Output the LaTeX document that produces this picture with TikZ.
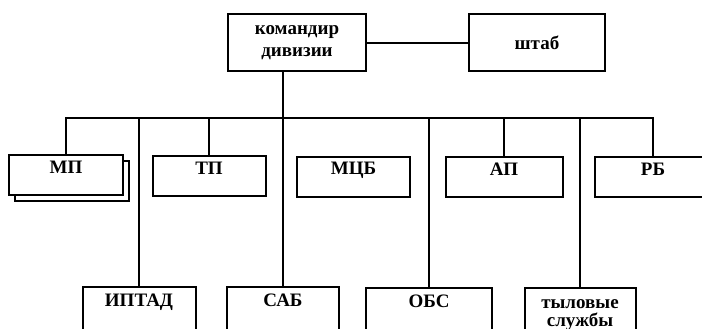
\documentclass[tikz,border=0pt]{standalone}
\usepackage{fontspec}
\setmainfont{Liberation Serif}
\usetikzlibrary{shadows}

\tikzset{
  box/.style={draw, line width=2pt, fill=white, inner sep=0pt, align=center,
    font=\fontsize{19}{22}\selectfont\bfseries, minimum width=113pt},
  unit/.style={box, text height=18pt, text depth=22pt},
  lowunit/.style={box, text height=19pt, text depth=40pt},
  link/.style={line width=2pt},
}

\begin{document}
\begin{tikzpicture}[x=1pt, y=-1pt]
  \useasboundingbox[fill=white] (0,0) rectangle (702,329);

  % command level
  \node[box, minimum width=138pt, minimum height=57pt] (cmd) at (297,43) {командир\\дивизии};
  \node[box, minimum width=136pt, minimum height=57pt] (shtab) at (537,43) {штаб};

  % regiments and battalions
  \node[unit, minimum width=114pt, copy shadow={shadow xshift=6pt, shadow yshift=-6pt}] (mp) at (66,175) {МП};
  \node[unit] (tp) at (209,176) {ТП};
  \node[unit] (mcb) at (353.5,176.5) {МЦБ};
  \node[unit, minimum width=117pt] (ap) at (504,177) {АП};
  \node[unit, minimum width=116pt] (rb) at (653,177) {РБ};

  % lower row, cut by the page edge
  \node[lowunit] (iptad) at (139,316.5) {ИПТАД};
  \node[lowunit, minimum width=112pt] (sab) at (283,316.5) {САБ};
  \node[lowunit, minimum width=126pt] (obs) at (429,317.5) {ОБС};
  \node[box, minimum width=111pt, text height=38pt, text depth=21pt] (tyl) at (580,317.5) {тыловые\\[-4pt]службы};

  \coordinate (bus) at (0,118);

  \draw[link] (cmd.east) -- (shtab.west);
  \draw[link] (cmd.south -| sab.north) -- (sab.north);
  \draw[link] (mp.north) -- (mp.north |- bus) -- (rb.north |- bus) -- (rb.north);
  \foreach \n in {tp, ap}
    \draw[link] (\n.north) -- (\n.north |- bus);
  \foreach \n in {iptad, obs, tyl}
    \draw[link] (\n.north) -- (\n.north |- bus);
\end{tikzpicture}
\end{document}
